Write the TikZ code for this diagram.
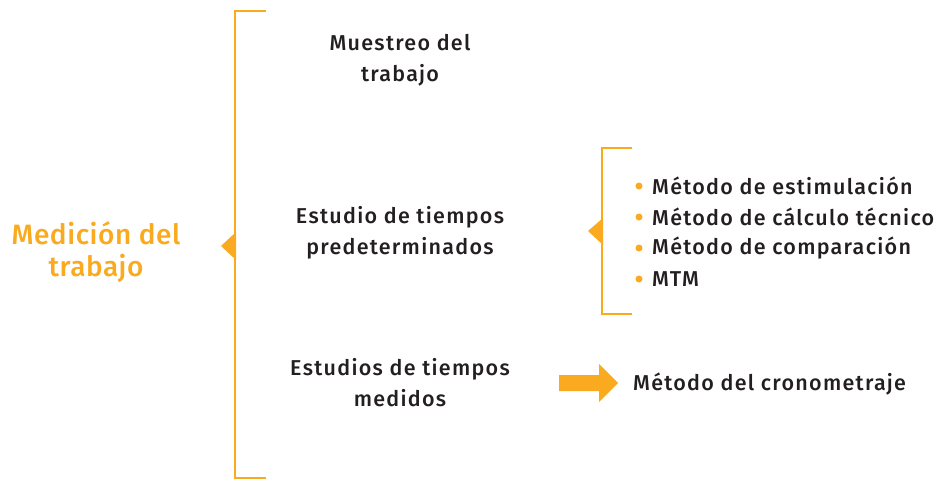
\documentclass[tikz,border=0pt]{standalone}
\usepackage{fontspec}
\setmainfont{Fira Sans}[UprightFont=* Medium,LetterSpace=6]
\newfontfamily\titlefont{Fira Sans}[UprightFont=* Medium,LetterSpace=2]
\definecolor{org}{HTML}{F9AA1E}
\definecolor{txt}{HTML}{231F20}
\begin{document}
\begin{tikzpicture}[x=1pt,y=-1pt,
  lbl/.style={align=center,text=txt,font=\fontsize{21.5}{31}\selectfont,inner sep=0pt},
  itm/.style={anchor=west,text=txt,font=\fontsize{21.5}{31}\selectfont,inner sep=0pt},
  brk/.style={draw=org,line width=2.2pt},
  tri/.style={fill=org,draw=none}]
\useasboundingbox (0,0) rectangle (936,480);
\node[align=center,text=org,font=\titlefont\fontsize{28}{32}\selectfont,inner sep=0pt] (title) at (96,252) {Medición del\\trabajo};
% main bracket
\coordinate (b1t) at (266,11);
\coordinate (b1b) at (266,478);
\draw[brk] (b1t) -| (235,478) -- (b1b);
\fill[tri] (236,232) -- (221,246) -- (236,260) -- cycle;
\node[lbl] (mu) at (400,60) {Muestreo del\\trabajo};
\node[lbl] (pre) at (400,233) {Estudio de tiempos\\predeterminados};
\node[lbl] (med) at (400,383) {Estudios de tiempos\\medidos};
% second bracket
\coordinate (b2t) at (632,148);
\coordinate (b2b) at (632,314);
\draw[brk] (b2t) -| (602,314) -- (b2b);
\fill[tri] (603,218) -- (588,231) -- (603,245) -- cycle;
\foreach \i/\t in {0/Método de estimulación,1/Método de cálculo técnico,2/Método de comparación,3/MTM}{
  \fill[org] (639,186+31*\i) circle (3.5);
  \node[itm] (it\i) at (652,186+31*\i) {\t};
}
% arrow
\fill[org] (559,375) -- (599,375) -- (599,364) -- (618,383) -- (599,402) -- (599,391) -- (559,391) -- cycle;
\node[itm] (cr) at (633,384) {Método del cronometraje};
\end{tikzpicture}
\end{document}
